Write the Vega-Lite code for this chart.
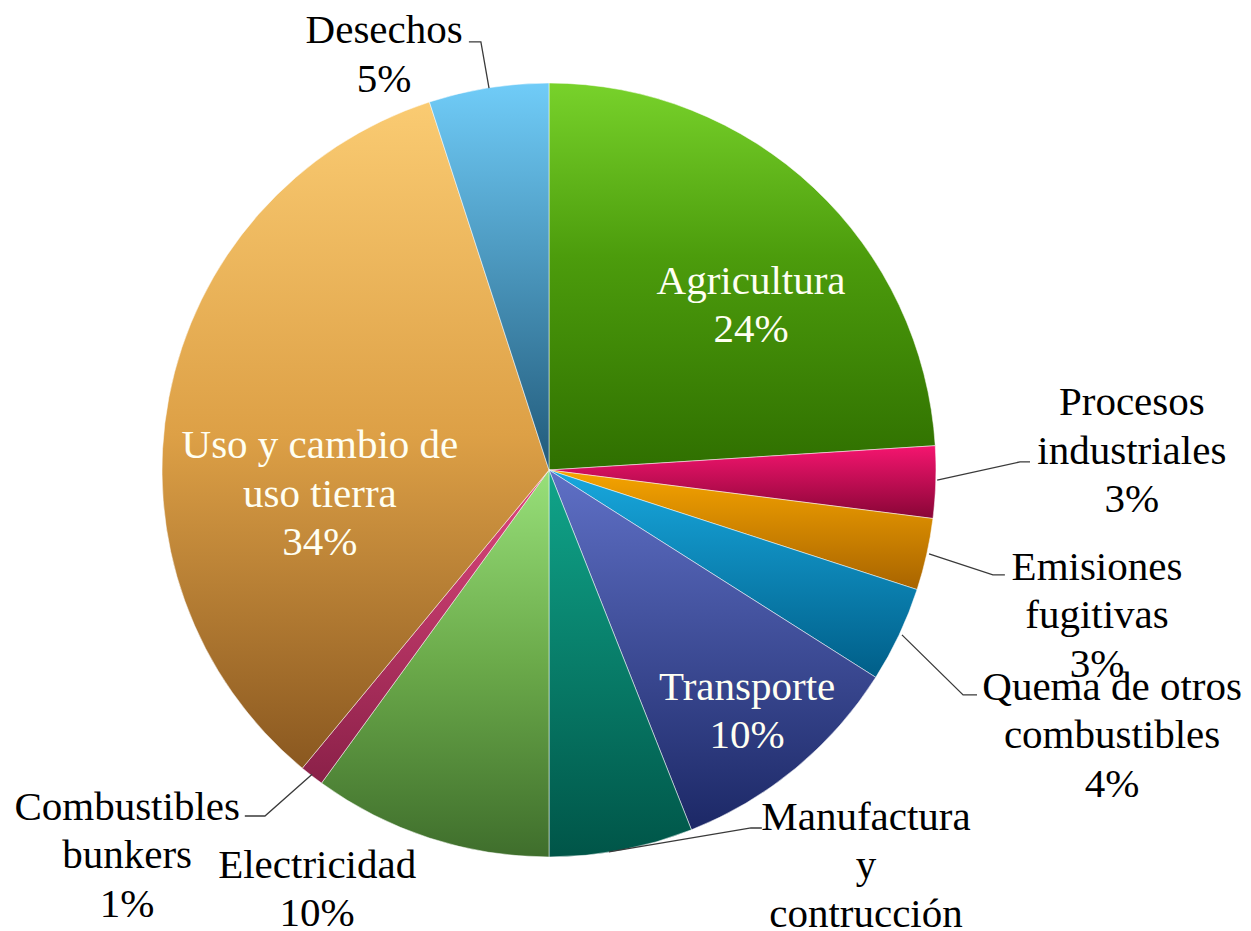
{
  "$schema": "https://vega.github.io/schema/vega-lite/v6.json",
  "width": 1098,
  "height": 922,
  "autosize": {"type": "none"},
  "padding": {"left": 0, "top": 9, "right": 153, "bottom": 0},
  "background": "white",
  "config": {"view": {"stroke": null}},
  "datasets": {
    "slices": [
      {"sector": "Agricultura", "pct": 24, "order": 1},
      {"sector": "Procesos industriales", "pct": 3, "order": 2},
      {"sector": "Emisiones fugitivas", "pct": 3, "order": 3},
      {"sector": "Quema de otros combustibles", "pct": 4, "order": 4},
      {"sector": "Transporte", "pct": 10, "order": 5},
      {"sector": "Manufactura y contrucción", "pct": 6, "order": 6},
      {"sector": "Electricidad", "pct": 10, "order": 7},
      {"sector": "Combustibles bunkers", "pct": 1, "order": 8},
      {"sector": "Uso y cambio de uso tierra", "pct": 34, "order": 9},
      {"sector": "Desechos", "pct": 5, "order": 10}
    ],
    "labels": [
      {"label": "Desechos\n5%", "lx": -42.6, "ly": 110.3, "inside": false},
      {"label": "Agricultura\n24%", "lx": 52.2, "ly": 45.5, "inside": true},
      {"label": "Procesos\nindustriales\n3%", "lx": 150.6, "ly": 14.2, "inside": false},
      {"label": "Emisiones\nfugitivas\n3%", "lx": 141.6, "ly": -28.4, "inside": false},
      {"label": "Quema de otros\ncombustibles\n4%", "lx": 145.5, "ly": -59.4, "inside": false},
      {"label": "Manufactura\ny\ncontrucción\n6%", "lx": 81.9, "ly": -93.0, "inside": false},
      {"label": "Electricidad\n10%", "lx": -59.9, "ly": -105.4, "inside": false},
      {"label": "Combustibles\nbunkers\n1%", "lx": -109.0, "ly": -90.4, "inside": false},
      {"label": "Transporte\n10%", "lx": 51.2, "ly": -59.4, "inside": true},
      {"label": "Uso y cambio de\nuso tierra\n34%", "lx": -59.2, "ly": 3.1, "inside": true}
    ],
    "leaders": [
      {"lead": "Desechos", "seq": 1, "px": -20.7, "py": 110.6},
      {"lead": "Desechos", "seq": 2, "px": -17.6, "py": 110.6},
      {"lead": "Desechos", "seq": 3, "px": -15.5, "py": 98.7},
      {"lead": "Procesos", "seq": 1, "px": 100.3, "py": -2.6},
      {"lead": "Procesos", "seq": 2, "px": 121.7, "py": 2.1},
      {"lead": "Procesos", "seq": 3, "px": 124.3, "py": 2.1},
      {"lead": "Emisiones", "seq": 1, "px": 98.2, "py": -21.7},
      {"lead": "Emisiones", "seq": 2, "px": 114.7, "py": -27.1},
      {"lead": "Emisiones", "seq": 3, "px": 117.8, "py": -27.1},
      {"lead": "Quema", "seq": 1, "px": 91.2, "py": -42.6},
      {"lead": "Quema", "seq": 2, "px": 107.0, "py": -58.1},
      {"lead": "Quema", "seq": 3, "px": 110.6, "py": -58.1},
      {"lead": "Manufactura", "seq": 1, "px": 15.5, "py": -98.7},
      {"lead": "Manufactura", "seq": 2, "px": 52.2, "py": -92.5},
      {"lead": "Manufactura", "seq": 3, "px": 55.0, "py": -92.5},
      {"lead": "Bunkers", "seq": 1, "px": -61.2, "py": -78.6},
      {"lead": "Bunkers", "seq": 2, "px": -73.4, "py": -89.4},
      {"lead": "Bunkers", "seq": 3, "px": -78.6, "py": -89.4}
    ]
  },
  "layer": [
    {
      "data": {"name": "slices"},
      "mark": {"type": "arc", "outerRadius": 387, "stroke": "#ffffff", "strokeWidth": 1, "strokeOpacity": 0.5},
      "encoding": {
        "theta": {"field": "pct", "type": "quantitative", "stack": true, "scale": {"domain": [0, 100]}},
        "order": {"field": "order", "type": "quantitative"},
        "fill": {
          "condition": [
            {"test": "datum.sector === 'Agricultura'", "value": {"gradient": "linear", "x1": 0, "y1": 0, "x2": 0, "y2": 1, "stops": [{"offset": 0, "color": "#78D22B"}, {"offset": 0.45, "color": "#4C9C0C"}, {"offset": 1, "color": "#2F6F00"}]}},
            {"test": "datum.sector === 'Procesos industriales'", "value": {"gradient": "linear", "x1": 0, "y1": 0, "x2": 0, "y2": 1, "stops": [{"offset": 0, "color": "#F5156F"}, {"offset": 1, "color": "#880536"}]}},
            {"test": "datum.sector === 'Emisiones fugitivas'", "value": {"gradient": "linear", "x1": 0, "y1": 0, "x2": 0, "y2": 1, "stops": [{"offset": 0, "color": "#F6A400"}, {"offset": 1, "color": "#A86400"}]}},
            {"test": "datum.sector === 'Quema de otros combustibles'", "value": {"gradient": "linear", "x1": 0, "y1": 0, "x2": 0, "y2": 1, "stops": [{"offset": 0, "color": "#18A8DE"}, {"offset": 1, "color": "#005E88"}]}},
            {"test": "datum.sector === 'Transporte'", "value": {"gradient": "linear", "x1": 0, "y1": 0, "x2": 0, "y2": 1, "stops": [{"offset": 0, "color": "#5F70C6"}, {"offset": 1, "color": "#1C2866"}]}},
            {"test": "datum.sector === 'Manufactura y contrucción'", "value": {"gradient": "linear", "x1": 0, "y1": 0, "x2": 0, "y2": 1, "stops": [{"offset": 0, "color": "#10A58A"}, {"offset": 1, "color": "#005548"}]}},
            {"test": "datum.sector === 'Electricidad'", "value": {"gradient": "linear", "x1": 0, "y1": 0, "x2": 0, "y2": 1, "stops": [{"offset": 0, "color": "#98E07A"}, {"offset": 0.5, "color": "#6BAA4A"}, {"offset": 1, "color": "#3F6E2C"}]}},
            {"test": "datum.sector === 'Combustibles bunkers'", "value": {"gradient": "linear", "x1": 0, "y1": 0, "x2": 0, "y2": 1, "stops": [{"offset": 0, "color": "#E0487E"}, {"offset": 1, "color": "#8A2048"}]}},
            {"test": "datum.sector === 'Uso y cambio de uso tierra'", "value": {"gradient": "linear", "x1": 0, "y1": 0, "x2": 0, "y2": 1, "stops": [{"offset": 0, "color": "#FACB72"}, {"offset": 0.5, "color": "#DDA046"}, {"offset": 1, "color": "#8A5820"}]}},
            {"test": "datum.sector === 'Desechos'", "value": {"gradient": "linear", "x1": 0, "y1": 0, "x2": 0, "y2": 1, "stops": [{"offset": 0, "color": "#70CCF8"}, {"offset": 1, "color": "#215A7A"}]}}
          ],
          "value": "#999999"
        }
      }
    },
    {
      "data": {"name": "leaders"},
      "mark": {"type": "line", "stroke": "#3a3a3a", "strokeWidth": 1.3},
      "encoding": {
        "x": {"field": "px", "type": "quantitative", "scale": {"domain": [-141.86, 141.86], "nice": false, "zero": false}, "axis": null},
        "y": {"field": "py", "type": "quantitative", "scale": {"domain": [-119.12, 119.12], "nice": false, "zero": false}, "axis": null},
        "detail": {"field": "lead", "type": "nominal"},
        "order": {"field": "seq", "type": "quantitative"}
      }
    },
    {
      "data": {"name": "labels"},
      "mark": {"type": "text", "font": "Liberation Serif", "fontSize": 41, "align": "center", "baseline": "alphabetic", "lineBreak": "\n", "lineHeight": 48.5},
      "encoding": {
        "x": {"field": "lx", "type": "quantitative", "scale": {"domain": [-141.86, 141.86], "nice": false, "zero": false}, "axis": null},
        "y": {"field": "ly", "type": "quantitative", "scale": {"domain": [-119.12, 119.12], "nice": false, "zero": false}, "axis": null},
        "text": {"field": "label", "type": "nominal"},
        "color": {"condition": {"test": "datum.inside", "value": "#FFFFF2"}, "value": "#000000"}
      }
    }
  ]
}
